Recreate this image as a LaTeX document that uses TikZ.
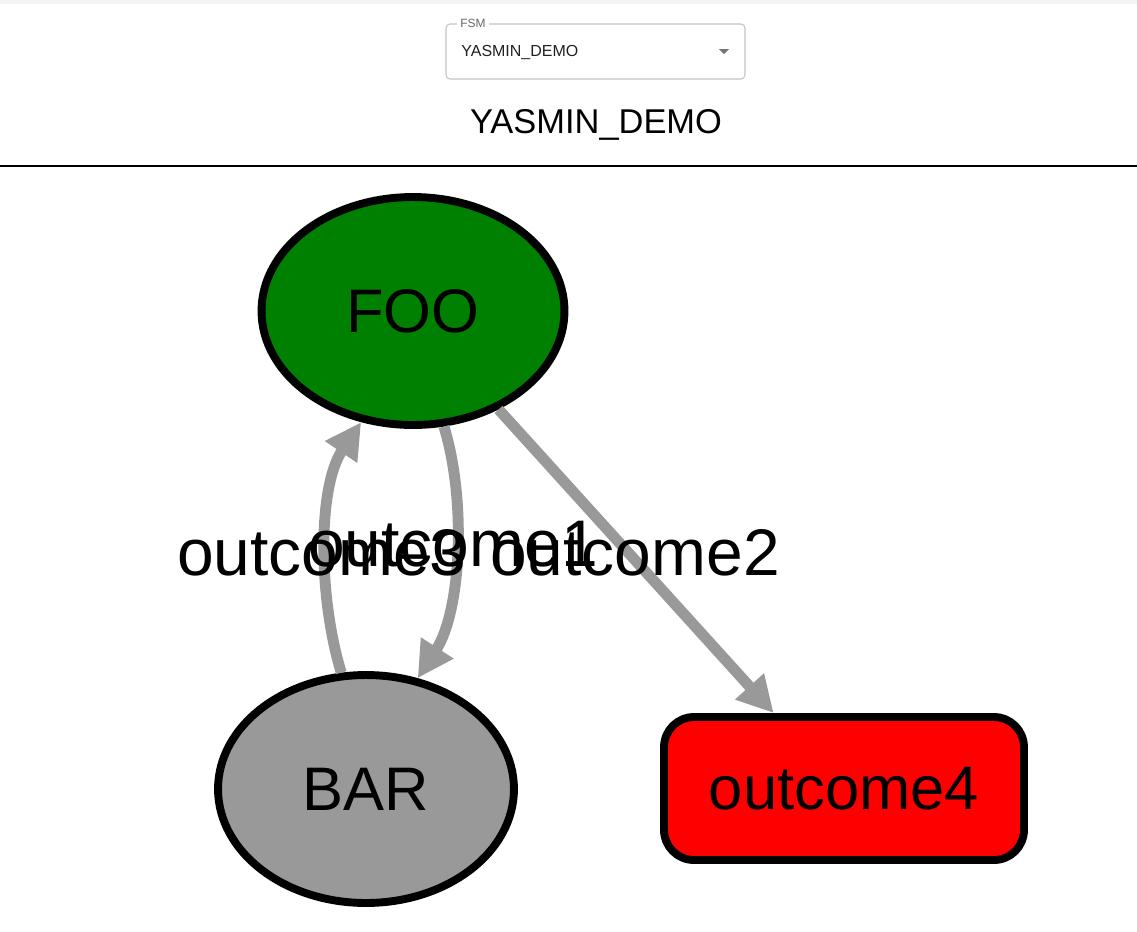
\documentclass[tikz,border=0pt]{standalone}
\usepackage{fontspec}
\setmainfont{Liberation Sans}
\usetikzlibrary{arrows.meta,shapes.geometric}
\definecolor{fsmgreen}{HTML}{008000}
\definecolor{fsmgray}{HTML}{999999}
\definecolor{fsmred}{HTML}{FF0000}
\definecolor{boxline}{HTML}{C4C4C4}
\definecolor{stripe}{HTML}{F3F4F6}

\begin{document}
\begin{tikzpicture}[x=0.02cm, y=-0.02cm,
  state/.style={shape=ellipse, draw=black, line width=4.5pt, minimum width=6.06cm, minimum height=4.56cm, font=\fontsize{35}{40}\selectfont},
  trans/.style={color=fsmgray, line width=6.2pt, -{Triangle[length=0.72cm, width=0.73cm]}},
  tlabel/.style={font=\fontsize{37.5}{42}\selectfont, anchor=base}]
\useasboundingbox (0,0) rectangle (1137,931);
\fill[white] (0,0) rectangle (1137,931);
\fill[stripe] (0,0) rectangle (1137,4);
% selector
\draw[boxline, line width=0.6pt, rounded corners=2.3pt] (446,24) rectangle (745,79);
\node[fill=white, text=black!60, inner xsep=2pt, inner ysep=0pt, font=\fontsize{6.8}{8}\selectfont] (fsm) at (473,23) {FSM};
\node[anchor=west, inner sep=0pt, text=black!87, font=\fontsize{9.1}{11}\selectfont] (sel) at (461,52) {YASMIN\_DEMO};
\fill[black!54] (719,49) -- (729,49) -- (724,54) -- cycle;
\node[font=\fontsize{19.6}{23}\selectfont] (title) at (596,125) {YASMIN\_DEMO};
\draw[black, line width=0.6pt] (0,166) -- (1137,166);
% graph
\node[state, fill=fsmgreen] (FOO) at (413,311) {FOO};
\node[state, fill=fsmgray, minimum width=5.92cm] (BAR) at (366,789) {BAR};
\node[draw=black, line width=4.5pt, fill=fsmred, rounded corners=0.6cm, minimum width=7.2cm, minimum height=2.86cm, font=\fontsize{35}{40}\selectfont] (outcome4) at (844,788.5) {outcome4};
\draw [trans] (FOO.-75) to [out=-73, in=57, looseness=0.8] (BAR.65);
\draw [trans] (BAR.102) to [out=107, in=-124, looseness=0.8] (FOO.-115);
\draw [trans] (FOO.-49) -- (outcome4.133);
\node[tlabel] (l3) at (322,575) {outcome3};
\node[tlabel] (l1) at (453,566) {outcome1};
\node[tlabel] (l2) at (635,575) {outcome2};
\end{tikzpicture}
\end{document}
